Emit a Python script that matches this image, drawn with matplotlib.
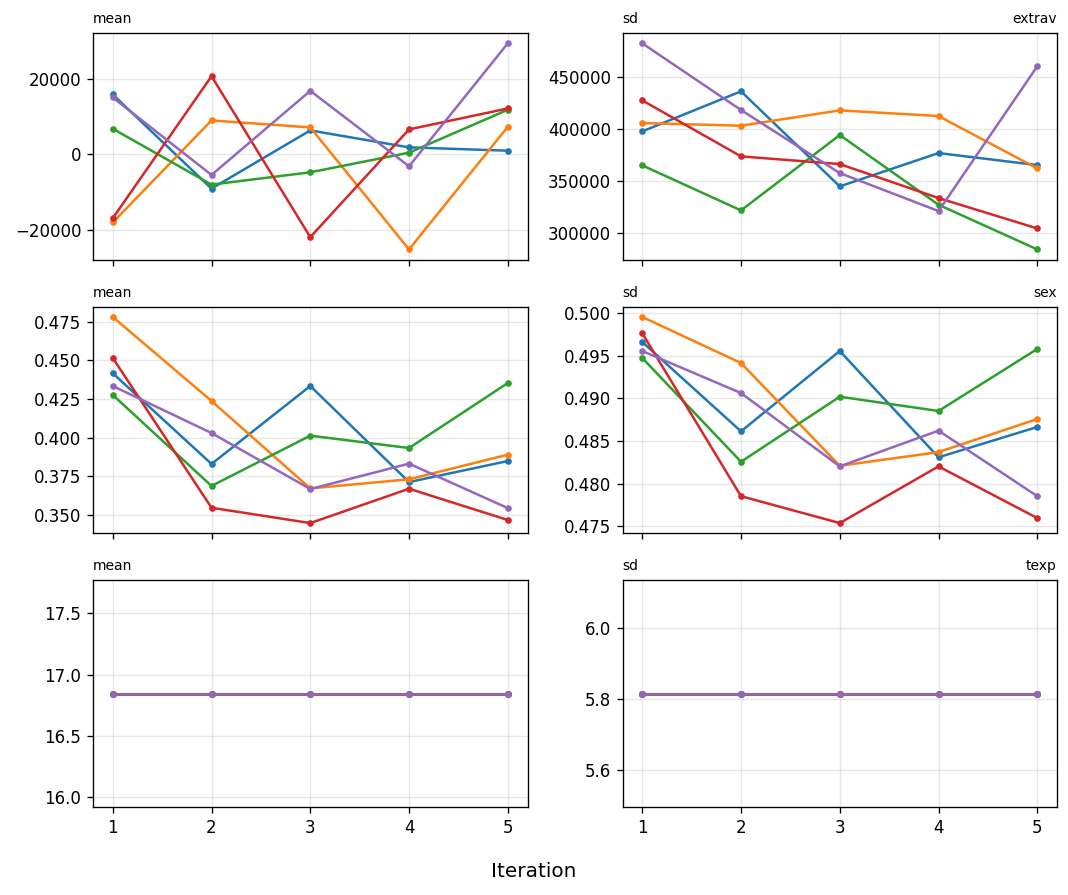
import matplotlib
matplotlib.use("Agg")
import matplotlib.pyplot as plt
import numpy as np

iteration = [1, 2, 3, 4, 5]

# chain values per variable, columns = chains 1..5 (C0..C4)
extrav_mean = [
    [15860, -9080, 6340, 1850, 970],
    [-18060, 8990, 7140, -25200, 7310],
    [6780, -8020, -4760, 440, 11810],
    [-16920, 20700, -21940, 6610, 12160],
    [15070, -5460, 16830, -3170, 29420],
]
extrav_sd = [
    [398080, 436540, 345190, 377240, 365700],
    [406090, 403530, 418270, 412820, 362500],
    [365390, 322120, 394550, 327570, 284620],
    [427880, 374040, 366670, 333980, 304810],
    [482690, 418590, 358010, 321480, 460570],
]
sex_mean = [
    [0.4416, 0.3830, 0.4334, 0.3713, 0.3849],
    [0.4780, 0.4237, 0.3672, 0.3731, 0.3890],
    [0.4276, 0.3688, 0.4013, 0.3933, 0.4353],
    [0.4515, 0.3547, 0.3448, 0.3670, 0.3468],
    [0.4334, 0.4030, 0.3668, 0.3832, 0.3545],
]
sex_sd = [
    [0.49663, 0.48613, 0.49557, 0.48308, 0.48664],
    [0.49957, 0.49416, 0.48208, 0.48369, 0.48758],
    [0.49475, 0.48256, 0.49020, 0.48852, 0.49581],
    [0.49765, 0.47851, 0.47535, 0.48201, 0.47594],
    [0.49557, 0.49063, 0.48201, 0.48621, 0.47851],
]
texp_mean = [[16.844] * 5 for _ in range(5)]
texp_sd = [[5.814] * 5 for _ in range(5)]

variables = ['extrav', 'sex', 'texp']
means = [extrav_mean, sex_mean, texp_mean]
sds = [extrav_sd, sex_sd, texp_sd]

fig, ax = plt.subplots(3, 2, sharex=True, figsize=(8.9, 895 / 120), dpi=120)
fig.subplots_adjust(left=0.0871, right=0.9897, top=0.9631, bottom=0.0983,
                    wspace=0.2186, hspace=0.207)

for i, var in enumerate(variables):
    for chain in means[i]:
        ax[i, 0].plot(iteration, chain, marker='.')
    for chain in sds[i]:
        ax[i, 1].plot(iteration, chain, marker='.')
    ax[i, 0].set_title('mean', loc='left', fontsize='small')
    ax[i, 1].set_title('sd', loc='left', fontsize='small')
    ax[i, 1].set_title(var, loc='right', fontsize='small')
    for a in ax[i]:
        a.grid(alpha=0.3)

ax[2, 0].set_xticks(iteration)
fig.supxlabel('Iteration', y=0.026, va='center', fontsize=12)

fig.savefig('out.png', dpi=120)
